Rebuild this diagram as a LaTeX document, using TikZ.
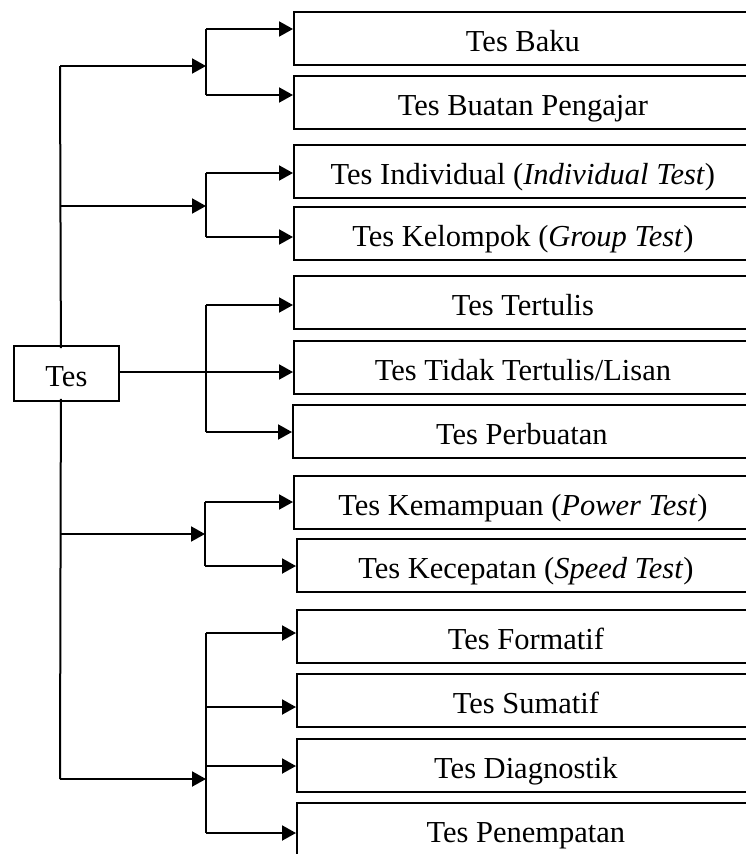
\documentclass[tikz,border=0pt]{standalone}
\usepackage{fontspec}
\setmainfont{Liberation Serif}
\usetikzlibrary{arrows.meta}

\tikzset{
  ln/.style={line width=2pt},
  arr/.style={line width=2pt, -{Triangle[length=14pt,width=15pt]}},
  kind/.style={draw, line width=1.8pt, rectangle, anchor=north west,
    minimum width=458pt, inner xsep=0pt, inner ysep=0pt,
    text height=39.5pt, text depth=13.5pt, align=center,
    font=\fontsize{30.5}{36}\selectfont},
  root/.style={draw, line width=1.8pt, rectangle, anchor=north west,
    minimum width=105pt, inner xsep=0pt, inner ysep=0pt,
    text height=41pt, text depth=14pt,
    font=\fontsize{30.5}{36}\selectfont}
}

\begin{document}
\begin{tikzpicture}[x=1pt, y=-1pt]
\useasboundingbox (0,0) rectangle (746,854);
\clip (0,0) rectangle (746,854);

% root
\node[root] (tes) at (13,345) {Tes};

% category boxes
\node[kind] (b1)  at (293,11)  {Tes Baku};
\node[kind] (b2)  at (293,75)  {Tes Buatan Pengajar};
\node[kind] (b3)  at (293,144) {Tes Individual (\textit{Individual Test})};
\node[kind] (b4)  at (293,206) {Tes Kelompok (\textit{Group Test})};
\node[kind] (b5)  at (293,275) {Tes Tertulis};
\node[kind] (b6)  at (293,340) {Tes Tidak Tertulis/Lisan};
\node[kind] (b7)  at (292,404) {Tes Perbuatan};
\node[kind] (b8)  at (293,475) {Tes Kemampuan (\textit{Power Test})};
\node[kind] (b9)  at (296,538) {Tes Kecepatan (\textit{Speed Test})};
\node[kind] (b10) at (296,609) {Tes Formatif};
\node[kind] (b11) at (296,673) {Tes Sumatif};
\node[kind] (b12) at (296,738) {Tes Diagnostik};
\node[kind] (b13) at (296,802) {Tes Penempatan};

% spine
\coordinate (s1) at (60,66);
\coordinate (s2) at (60,206);
\coordinate (s4) at (60,534);
\coordinate (s5) at (60,779);
\draw[ln] ([xshift=-5.5pt,yshift=-3pt]tes.north) -- (s1);
\draw[ln] ([xshift=-5.5pt,yshift=3pt]tes.south) -- (s5);

% bracket junctions
\coordinate (j1) at (206,66);
\coordinate (j2) at (206,206);
\coordinate (j4) at (205,534);
\coordinate (j5) at (206,779);

\draw[arr] (s1) -- (j1);
\draw[arr] (s2) -- (j2);
\draw[arr] (s4) -- (j4);
\draw[arr] (s5) -- (j5);

% arrow start points on the brackets
\coordinate (a1)  at (206,29);
\coordinate (a2)  at (206,95);
\coordinate (a3)  at (206,173);
\coordinate (a4)  at (206,237);
\coordinate (a5)  at (206,305);
\coordinate (a6)  at (206,372);
\coordinate (a7)  at (206,432);
\coordinate (a8)  at (205,502);
\coordinate (a9)  at (205,566);
\coordinate (a10) at (206,633);
\coordinate (a11) at (206,707);
\coordinate (a12) at (206,766);
\coordinate (a13) at (206,833);

% brackets
\draw[ln] (a1) -- (a2);
\draw[ln] (a3) -- (a4);
\draw[ln] (a5) -- (a7);
\draw[ln] (a8) -- (a9);
\draw[ln] (a10) -- (a13);

% root to the middle group
\draw[arr] (tes.east |- a6) -- (a6 -| b6.west);

% arrows into boxes
\foreach \i in {1,2,3,4,5,7,8,9,10,11,12,13}
  \draw[arr] (a\i) -- (a\i -| b\i.west);
\end{tikzpicture}
\end{document}
